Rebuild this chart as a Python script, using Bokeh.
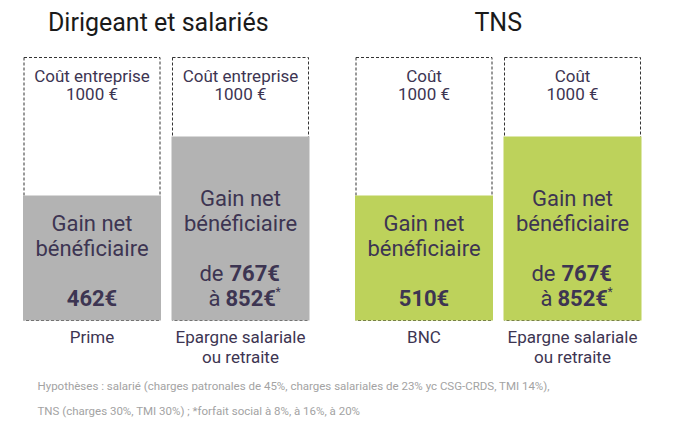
from bokeh.plotting import figure
from bokeh.models import Range1d
from bokeh.core.properties import value
from bokeh.embed import file_html
from bokeh.resources import INLINE

groups = ["Dirigeant et salariés", "TNS"]
cost_title = ["Coût entreprise", "Coût entreprise", "Coût", "Coût"]
cost_value = ["1000 €", "1000 €", "1000 €", "1000 €"]
cost = [1000, 1000, 1000, 1000]
# heights of the filled bars as drawn (not to scale with the labels)
gain_drawn = [475, 700, 475, 700]
gain_from = ["462€", "767€", "510€", "767€"]
gain_to = [None, "852€", None, "852€"]
cat_line1 = ["Prime", "Epargne salariale", "BNC", "Epargne salariale"]
cat_line2 = ["", "ou retraite", "", "ou retraite"]
fill_colors = ["#b3b3b3", "#b3b3b3", "#bdd25b", "#bdd25b"]
footnote = [
    "Hypothèses : salarié (charges patronales de 45%, charges salariales de 23% yc CSG-CRDS, TMI 14%),",
    "TNS (charges 30%, TMI 30%) ; *forfait social  à 8%, à 16%, à 20%",
]

W, H = 683, 419
k = 1000 / 263.0          # euros per pixel
bottom_px = H - 320       # pixels below the bar baseline

def y_at(px):
    return px * k

x0, pitch, gap, bw = 91.5, 148.5, 35, 136
xs = [x0 + i * pitch + (i // 2) * gap for i in range(4)]

FONT = value("Roboto")
TXT = "#3d3552"

p = figure(width=W, height=H, output_backend="svg", toolbar_location=None,
           x_range=Range1d(0, W), y_range=Range1d(-bottom_px * k, 1000 + (H - 263 - bottom_px) * k),
           min_border=0, outline_line_color=None)
p.axis.visible = False
p.grid.visible = False

# dashed "coût" boxes
p.quad(left=[x - bw / 2 for x in xs], right=[x + bw / 2 for x in xs], bottom=0, top=cost,
       fill_color=None, line_color="#333333", line_dash="3 2", line_width=1)
# filled gain bars
p.vbar(x=xs, width=bw + 2, bottom=0, top=gain_drawn, fill_color=fill_colors, line_color=None)

# group titles
gx = [(xs[0] + xs[1]) / 2 - 8, (xs[2] + xs[3]) / 2]
p.text(x=gx, y=[y_at(298)] * 2, text=groups, text_align="center", text_baseline="middle",
       text_font=FONT, text_font_size="25px", text_color="#1a1a1a")

# cost labels
p.text(x=xs, y=[y_at(245)] * 4, text=cost_title, text_align="center", text_baseline="middle",
       text_font=FONT, text_font_size="17px", text_color=TXT)
p.text(x=xs, y=[y_at(227)] * 4, text=cost_value, text_align="center", text_baseline="middle",
       text_font=FONT, text_font_size="17px", text_color=TXT)

# gain labels inside bars
line_gap = 25
for i, x in enumerate(xs):
    ranged = gain_to[i] is not None
    base = 2 if ranged else 1
    p.text(x=[x, x], y=[y_at(22 + (base + 1) * line_gap), y_at(22 + (base + 2) * line_gap)],
           text=["bénéficiaire", "Gain net"], text_align="center", text_baseline="middle",
           text_font=FONT, text_font_size="22px", text_color=TXT)
    if ranged:
        p.text(x=[x - 17, x - 20], y=[y_at(47), y_at(22)], text=["de", "à"],
               text_align="right", text_baseline="middle",
               text_font=FONT, text_font_size="22px", text_color=TXT)
        p.text(x=[x - 11, x - 15], y=[y_at(47), y_at(22)], text=[gain_from[i], gain_to[i]],
               text_align="left", text_baseline="middle", text_font_style="bold",
               text_font=FONT, text_font_size="22px", text_color=TXT)
        p.text(x=[x + 35], y=[y_at(29)], text=["*"], text_align="left", text_baseline="middle",
               text_font=FONT, text_font_size="12px", text_color=TXT)
    else:
        p.text(x=[x], y=[y_at(22)], text=[gain_from[i]], text_align="center",
               text_baseline="middle", text_font_style="bold",
               text_font=FONT, text_font_size="22px", text_color=TXT)

# category labels
p.text(x=xs, y=[y_at(-16)] * 4, text=cat_line1, text_align="center", text_baseline="middle",
       text_font=FONT, text_font_size="17px", text_color=TXT)
p.text(x=xs, y=[y_at(-36)] * 4, text=cat_line2, text_align="center", text_baseline="middle",
       text_font=FONT, text_font_size="17px", text_color=TXT)

# footnote
p.text(x=[37, 37], y=[y_at(-65), y_at(-90)], text=footnote, text_align="left",
       text_baseline="middle", text_font=FONT,
       text_font_size="11.5px", text_color="#a3a3a3")

open("out.html", "w").write(file_html(p, INLINE))
